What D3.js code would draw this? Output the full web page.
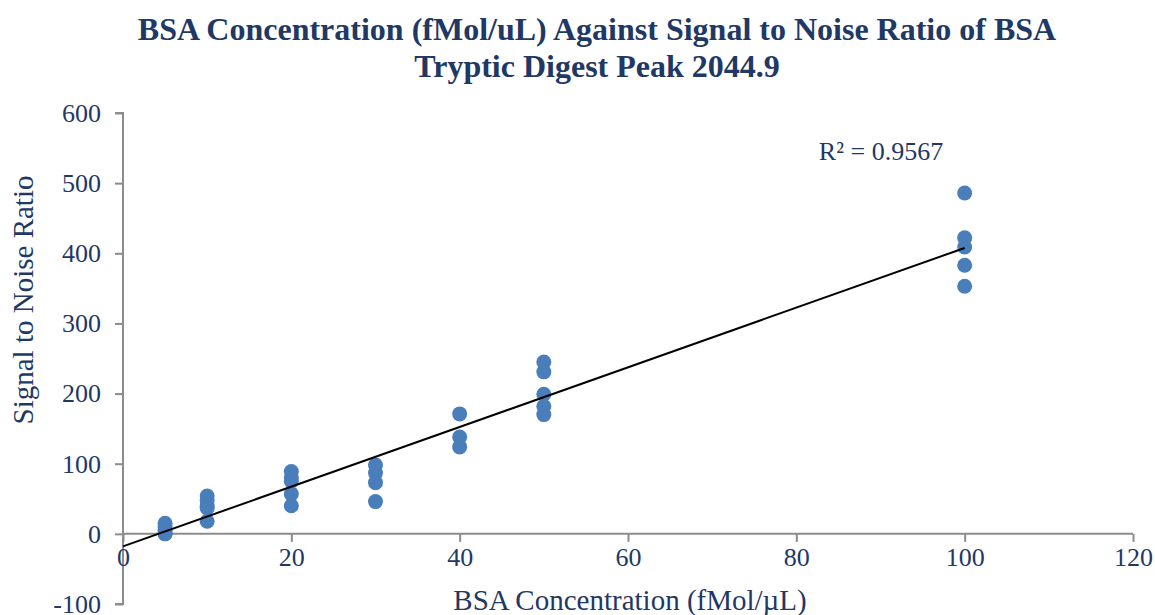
<!DOCTYPE html>
<html>
<head>
<meta charset="utf-8">
<script src="https://cdn.jsdelivr.net/npm/d3@7"></script>
<style>
  body { margin: 0; background: #fff; }
  text { font-family: "Liberation Serif", "Times New Roman", serif; }
</style>
</head>
<body>
<div id="chart"></div>
<script>
// concentration (fMol/uL) and the signal to noise readings at each one
var concentrations = [5, 10, 20, 30, 40, 50, 100];
var snrValues = [
    [15, 10, 5, 1, 0],
    [54, 48, 40, 37, 18],
    [89, 80, 75, 57, 40],
    [98, 87, 73, 46],
    [171, 138, 124],
    [245, 231, 199, 182, 170],
    [486, 422, 409, 383, 353]
];
var xTicks = [0, 20, 40, 60, 80, 100, 120];
var yTicks = [-100, 0, 100, 200, 300, 400, 500, 600];
var rSquaredLabel = "R² = 0.9567";

var points = [];
concentrations.forEach(function(c, i) {
    snrValues[i].forEach(function(v) { points.push({x: c, y: v}); });
});

var W = 1155, H = 615;
var margin = {top: 113, right: 22, bottom: 11, left: 123};
var width = W - margin.left - margin.right,
    height = H - margin.top - margin.bottom;

var x = d3.scaleLinear().domain([0, 120]).range([0, width]);
var y = d3.scaleLinear().domain([-100, 600]).range([height, 0]);

var svg = d3.select("#chart").append("svg")
    .attr("width", W).attr("height", H);

var navy = "#1f3864";
var axisGray = "#8c8c8c";

// title
var title = svg.append("text")
    .attr("text-anchor", "middle")
    .attr("font-weight", "bold")
    .attr("font-size", 32)
    .attr("fill", navy);
title.append("tspan").attr("x", 597).attr("y", 40)
    .text("BSA Concentration (fMol/uL) Against Signal to Noise Ratio of BSA");
title.append("tspan").attr("x", 597).attr("y", 77)
    .text("Tryptic Digest Peak 2044.9");

var g = svg.append("g")
    .attr("transform", "translate(" + margin.left + "," + margin.top + ")");

var plain = function(d) { return String(d); };

// Y axis
var yAxis = g.append("g")
    .call(d3.axisLeft(y).tickValues(yTicks).tickFormat(plain).tickSize(8).tickPadding(14));
// X axis sits at y = 0
var xAxis = g.append("g")
    .attr("transform", "translate(0," + y(0) + ")")
    .call(d3.axisBottom(x).tickValues(xTicks).tickFormat(plain).tickSize(8).tickPadding(6));

[yAxis, xAxis].forEach(function(ax) {
    ax.select(".domain").attr("stroke", axisGray).attr("stroke-width", 2);
    ax.selectAll(".tick line").attr("stroke", axisGray).attr("stroke-width", 2);
    ax.selectAll(".tick text")
        .attr("fill", navy)
        .attr("font-size", 26)
        .style("font-family", "'Liberation Serif', serif");
});
yAxis.select(".domain").attr("d", "M-8," + y(600) + "H0V" + y(-100) + "H-8");
xAxis.select(".domain").attr("d", "M0,0H" + width);

// dots
g.selectAll("circle.dot")
    .data(points)
    .enter().append("circle")
    .attr("class", "dot")
    .attr("r", 7.5)
    .attr("cx", function(d) { return x(d.x); })
    .attr("cy", function(d) { return y(d.y); })
    .attr("fill", "#4a7ebb");

// least squares trend line
var mx = d3.mean(points, function(d) { return d.x; });
var my = d3.mean(points, function(d) { return d.y; });
var sxy = d3.sum(points, function(d) { return (d.x - mx) * (d.y - my); });
var sxx = d3.sum(points, function(d) { return (d.x - mx) * (d.x - mx); });
var slope = sxy / sxx, intercept = my - slope * mx;

g.append("line")
    .attr("x1", x(0)).attr("y1", y(intercept))
    .attr("x2", x(100)).attr("y2", y(intercept + slope * 100))
    .attr("stroke", "#000").attr("stroke-width", 2);

svg.append("text")
    .attr("x", 881).attr("y", 160)
    .attr("text-anchor", "middle")
    .attr("font-size", 26)
    .attr("fill", navy)
    .text(rSquaredLabel);

// axis titles
svg.append("text")
    .attr("transform", "translate(33,300) rotate(-90)")
    .attr("text-anchor", "middle")
    .attr("font-size", 29)
    .attr("fill", navy)
    .text("Signal to Noise Ratio");

svg.append("text")
    .attr("x", 630).attr("y", 610)
    .attr("text-anchor", "middle")
    .attr("font-size", 29)
    .attr("fill", navy)
    .text("BSA Concentration (fMol/µL)");
</script>
</body>
</html>
